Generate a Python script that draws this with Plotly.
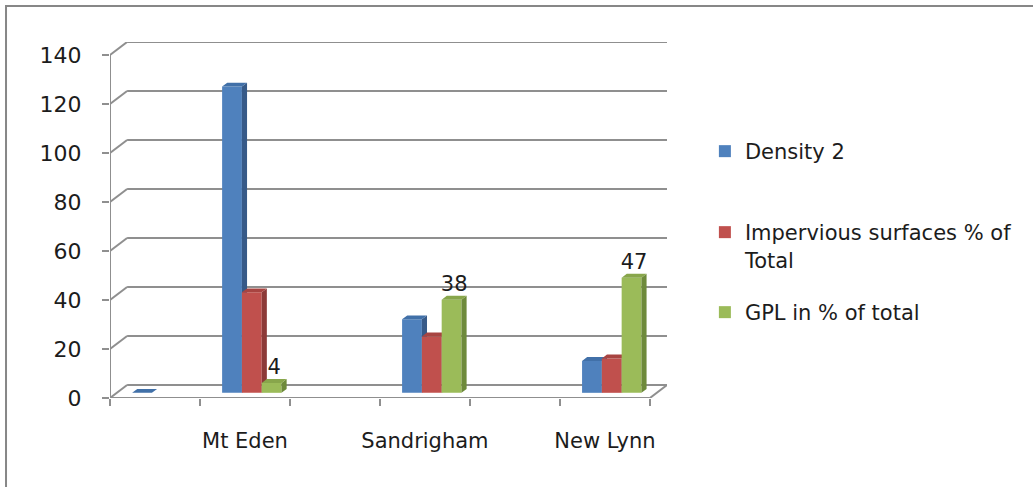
import plotly.graph_objects as go

# ---- data -------------------------------------------------------------
CATEGORIES = ["", "Mt Eden", "", "Sandrigham", "", "New Lynn"]
DENSITY_2 = [0, 125, None, 30, None, 13]
IMPERVIOUS = [None, 41, None, 23, None, 14]
GPL = [None, 4, None, 38, None, 47]
SERIES_NAMES = ["Density 2", "Impervious surfaces % of<br>Total", "GPL in % of total"]
Y_TICKS = [0, 20, 40, 60, 80, 100, 120, 140]

# ---- styling ----------------------------------------------------------
FONT = "DejaVu Sans"
TEXT = "#1c1c1c"
GRID = "#8f8f8f"
COLORS = [  # front, side, top
    ("#4F81BD", "#375A88", "#4170A8"),
    ("#C0504D", "#8C3A38", "#A84441"),
    ("#9BBB59", "#6E8A3B", "#88A64B"),
]

# oblique projection of the depth axis (category units, value units)
DEPTH_X = 0.19
DEPTH_Y = 5.3
BAR_D0, BAR_D1 = 0.4, 0.7  # bar depth span (fraction of floor depth)
BAR_W = 0.22
GROUP_W = BAR_W * 3

W, H = 1033, 487
ML, MB, MT = 110, 89, 42
Y_MAX = Y_TICKS[-1]
X_RANGE = [-0.5, len(CATEGORIES) - 0.5 + DEPTH_X]
Y_RANGE = [0, Y_MAX + DEPTH_Y]
plot_w = 540 * (X_RANGE[1] - X_RANGE[0]) / len(CATEGORIES)
MR = W - ML - plot_w

positions = list(range(len(CATEGORIES)))
series = [DENSITY_2, IMPERVIOUS, GPL]

fig = go.Figure()

dd = BAR_D1 - BAR_D0
for k, (name, values, (c_front, c_side, c_top)) in enumerate(zip(SERIES_NAMES, series, COLORS)):
    ax = "" if k == 0 else str(k + 1)
    off = -GROUP_W / 2 + k * BAR_W + BAR_D0 * DEPTH_X
    base = BAR_D0 * DEPTH_Y
    fig.add_trace(go.Bar(
        x=positions, y=values, base=base, offset=off, width=BAR_W,
        marker=dict(color=c_front, line=dict(width=0)),
        name=name, legend="legend" if k == 0 else f"legend{k + 1}",
        xaxis="x" + ax, yaxis="y" + ax, hoverinfo="skip",
    ))
    sx, sy, tx, ty = [], [], [], []
    for p, v in zip(positions, values):
        if v is None:
            continue
        xl = p + off
        xr = xl + BAR_W
        yb = base
        yt = v + base
        sx += [xr, xr + dd * DEPTH_X, xr + dd * DEPTH_X, xr, xr, None]
        sy += [yb, yb + dd * DEPTH_Y, yt + dd * DEPTH_Y, yt, yb, None]
        tx += [xl, xr, xr + dd * DEPTH_X, xl + dd * DEPTH_X, xl, None]
        ty += [yt, yt, yt + dd * DEPTH_Y, yt + dd * DEPTH_Y, yt, None]
    for fx, fy, col in ((sx, sy, c_side), (tx, ty, c_top)):
        fig.add_trace(go.Scatter(
            x=fx, y=fy, mode="lines", fill="toself", fillcolor=col,
            line=dict(width=0, color=col), showlegend=False, hoverinfo="skip",
            xaxis="x" + ax, yaxis="y" + ax,
        ))

# value labels on the GPL series
k = 2
off = -GROUP_W / 2 + k * BAR_W + BAR_D0 * DEPTH_X
lx = [p + off + BAR_W / 2 + dd * DEPTH_X / 2 for p, v in zip(positions, GPL) if v is not None]
ly = [v + BAR_D1 * DEPTH_Y for v in GPL if v is not None]
fig.add_trace(go.Scatter(
    x=lx, y=ly, mode="text", text=[str(v) for v in GPL if v is not None],
    textposition="top center", textfont=dict(family=FONT, size=21, color=TEXT),
    showlegend=False, hoverinfo="skip", cliponaxis=False, xaxis="x3", yaxis="y3",
))

# ---- walls, floor and axis lines ------------------------------------------
shapes = []
x0, x1 = -0.5, len(CATEGORIES) - 0.5
line = dict(color=GRID, width=2)
for v in Y_TICKS:
    shapes.append(dict(type="line", xref="x", yref="y", x0=x0 + DEPTH_X, x1=x1 + DEPTH_X,
                       y0=v + DEPTH_Y, y1=v + DEPTH_Y, line=line, layer="below"))
    shapes.append(dict(type="line", xref="x", yref="y", x0=x0, x1=x0 + DEPTH_X,
                       y0=v, y1=v + DEPTH_Y, line=line, layer="below"))
shapes.append(dict(type="line", xref="x", yref="y", x0=x0, x1=x1, y0=0, y1=0, line=line, layer="below"))
shapes.append(dict(type="line", xref="x", yref="y", x0=x1, x1=x1 + DEPTH_X, y0=0, y1=DEPTH_Y,
                   line=line, layer="below"))
shapes.append(dict(type="line", xref="x", yref="y", x0=x0, x1=x0, y0=0, y1=Y_MAX, line=line, layer="below"))

# chart-area frame
plot_h = H - MT - MB
px = lambda u: (u - ML) / plot_w
py = lambda u: (H - MB - u) / plot_h
shapes.append(dict(type="rect", xref="paper", yref="paper", x0=px(6), x1=px(W + 10),
                   y0=py(H + 10), y1=py(6), line=dict(color="#878787", width=2)))

axis_hidden = dict(range=X_RANGE, visible=False, fixedrange=True)
yaxis_hidden = dict(range=Y_RANGE, visible=False, fixedrange=True)

legend_common = dict(font=dict(family=FONT, size=21, color=TEXT), bgcolor="rgba(0,0,0,0)",
                     xanchor="left", yanchor="top", valign="top", x=px(705))

fig.update_layout(
    width=W, height=H,
    margin=dict(l=ML, r=MR, t=MT, b=MB, pad=0),
    paper_bgcolor="white", plot_bgcolor="rgba(0,0,0,0)",
    barmode="overlay",
    shapes=shapes,
    xaxis=dict(
        range=X_RANGE, tickmode="array", tickvals=positions, ticktext=CATEGORIES,
        ticks="", showgrid=False, zeroline=False, showline=False, fixedrange=True,
        tickfont=dict(family=FONT, size=21, color=TEXT), ticklabelstandoff=28,
        minor=dict(tickmode="array", tickvals=[p - 0.5 for p in positions] + [x1],
                   ticks="outside", ticklen=7, tickwidth=2, tickcolor=GRID, showgrid=False),
    ),
    yaxis=dict(
        range=Y_RANGE, tickmode="array", tickvals=Y_TICKS, ticks="outside", ticklen=7,
        tickwidth=2, tickcolor=GRID, showgrid=False, zeroline=False, showline=False,
        fixedrange=True, tickfont=dict(family=FONT, size=22, color=TEXT), ticklabelstandoff=16,
    ),
    xaxis2=dict(axis_hidden, overlaying="x"), yaxis2=dict(yaxis_hidden, overlaying="y"),
    xaxis3=dict(axis_hidden, overlaying="x"), yaxis3=dict(yaxis_hidden, overlaying="y"),
    legend=dict(legend_common, y=py(131)),
    legend2=dict(legend_common, y=py(212)),
    legend3=dict(legend_common, y=py(292)),
)

fig.write_html("out.html")
